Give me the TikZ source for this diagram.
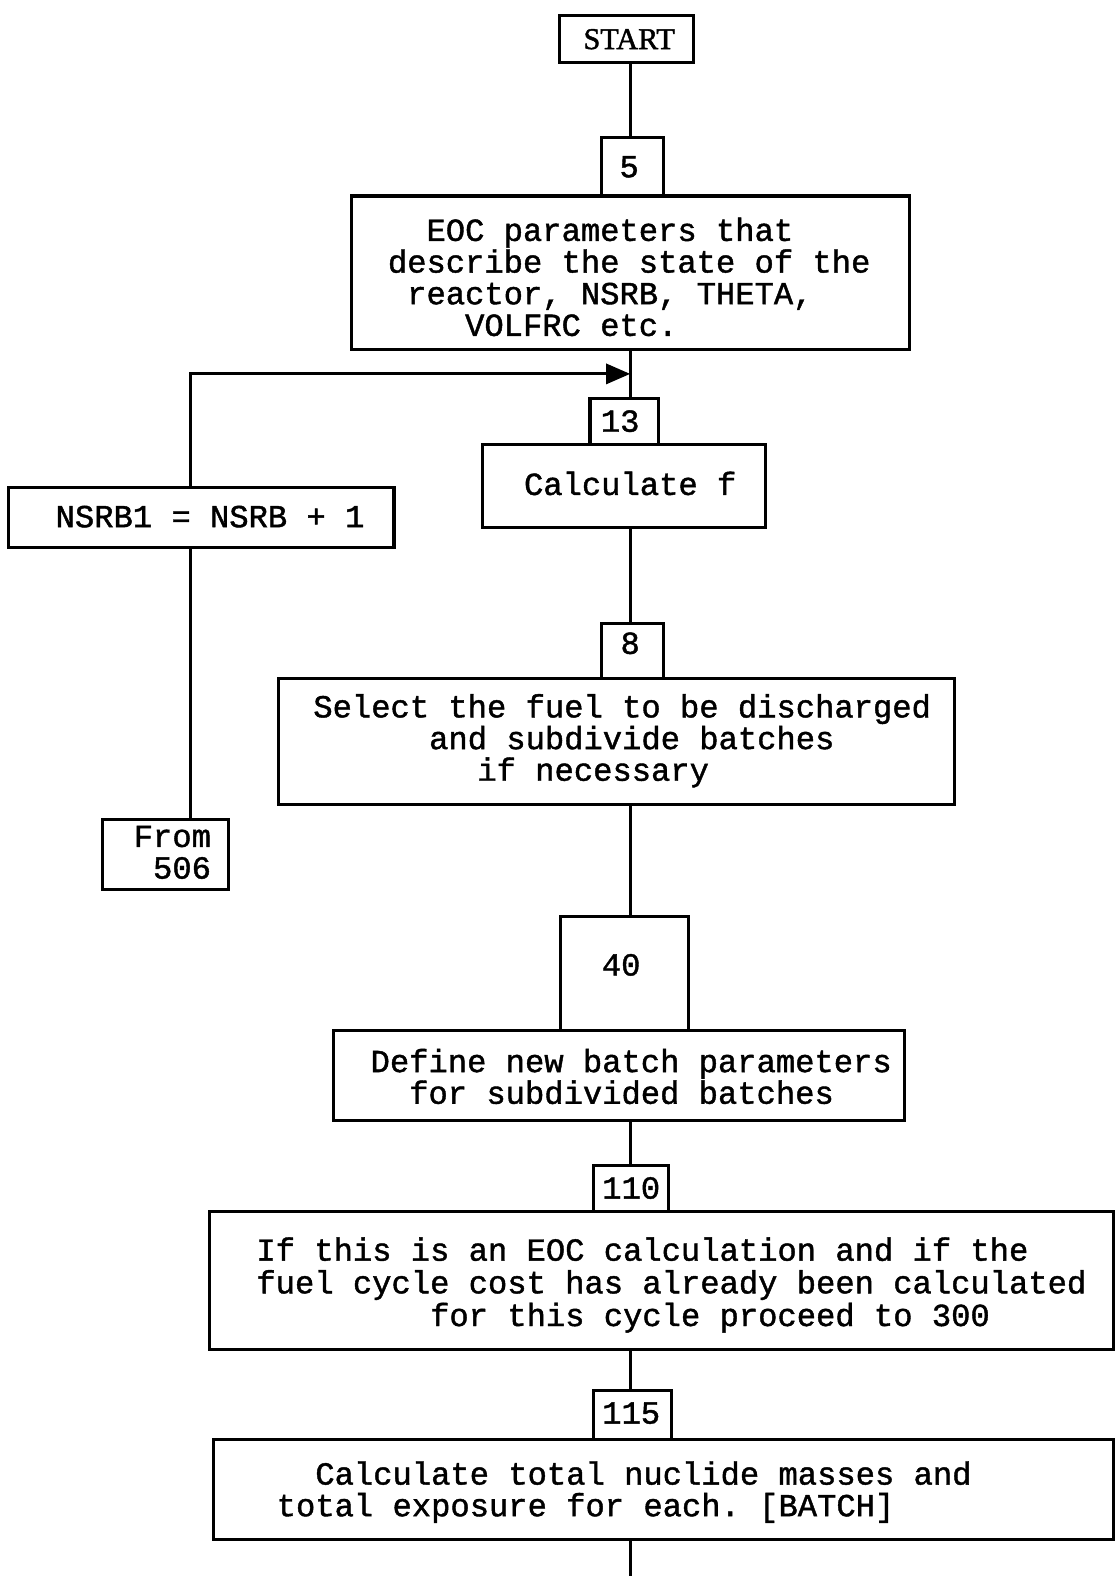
\documentclass[tikz,border=0pt]{standalone}
\usepackage{fontspec}
\setmainfont{Liberation Mono}[FakeBold=1.3]
\newfontfamily\labelserif{Liberation Serif}[FakeBold=1.5]
\usetikzlibrary{arrows.meta}
\frenchspacing
% indent by n typewriter columns
\newcommand\ind[1]{\hspace*{#1\dimexpr 0.6em\relax}}
\begin{document}
\begin{tikzpicture}[x=1pt,y=-1pt,
  every node/.style={inner sep=0pt, outer sep=0pt},
  box/.style={draw, line width=3pt},
  txt/.style={font=\fontsize{32pt}{31.5pt}\selectfont, align=left},
  flow/.style={line width=3pt},
  tip/.style={-{Triangle[length=24pt,width=20pt]}}]
\useasboundingbox (0,0) rectangle (1110,1568);
\coordinate (spine) at (627,0);
\coordinate (bottom) at (627,1568);

% boxes
\node[box, minimum width=133pt, minimum height=47pt] (start) at (623.5,38.5) {};
\node[box, minimum width=62pt,  minimum height=58pt] (n5)    at (629,166) {};
\node[box, minimum width=555pt, minimum height=153pt] (eoc)  at (627.5,271.5) {};
\node[box, minimum width=68pt,  minimum height=46pt] (n13)   at (621,419) {};
\node[box, minimum width=282pt, minimum height=83pt] (calcf) at (621,483.5) {};
\node[box, minimum width=384pt, minimum height=60pt] (nsrb)  at (200,515) {};
\node[box, minimum width=125pt, minimum height=70pt] (from)  at (164.5,850) {};
\node[box, minimum width=62pt,  minimum height=55pt] (n8)    at (629,647.5) {};
\node[box, minimum width=673pt, minimum height=125pt] (sel)  at (613.5,737.5) {};
\node[box, minimum width=127pt, minimum height=113pt] (n40)  at (621.5,968.5) {};
\node[box, minimum width=568pt, minimum height=90pt] (def)   at (616,1070) {};
\node[box, minimum width=75pt,  minimum height=45pt] (n110)  at (627.5,1182.5) {};
\node[box, minimum width=900pt, minimum height=138pt] (ifb)  at (658,1274) {};
\node[box, minimum width=78pt,  minimum height=49pt] (n115)  at (629,1407.5) {};
\node[box, minimum width=896pt, minimum height=100pt] (tot)  at (660,1482) {};

% texts
\node[font=\labelserif\fontsize{30pt}{30pt}\selectfont] (start-t) at (626,39) {START};
\node[txt] (n5-t)   at (626,166) {5};
\node[txt] (eoc-t)  at (626,275.5) {\ind{2}EOC parameters that\\describe the state of the\\\ind{1}reactor, NSRB, THETA,\\\ind{4}VOLFRC etc.};
\node[txt] (n13-t)  at (617,419) {13};
\node[txt] (calcf-t) at (627,481) {Calculate f};
\node[txt] (nsrb-t) at (209,514) {NSRB1 = NSRB + 1};
\node[txt, align=right] (from-t) at (171.5,848) {From\\506};
\node[txt] (n8-t)   at (627,640) {8};
\node[txt] (sel-t)  at (619,737) {Select the fuel to be discharged\\\ind{6}and subdivide batches\\\ind{8.5}if necessary};
\node[txt] (n40-t)  at (618,960) {40};
\node[txt] (def-t)  at (628,1071) {Define new batch parameters\\\ind{2}for subdivided batches};
\node[txt] (n110-t) at (628,1182) {110};
\node[txt, font=\fontsize{32pt}{32.5pt}\selectfont] (ifb-t) at (668,1278.5) {If this is an EOC calculation and if the\\fuel cycle cost has already been calculated\\\ind{9}for this cycle proceed to 300};
\node[txt] (n115-t) at (628,1406) {115};
\node[txt] (tot-t)  at (621,1484.5) {\ind{2}Calculate total nuclide masses and\\total exposure for each. [BATCH]};

% main flow
\draw[flow] (start.south -| spine) -- (n5.north -| spine);
\draw[flow] (eoc.south -| spine) -- (n13.north -| spine);
\draw[flow] (calcf.south -| spine) -- (n8.north -| spine);
\draw[flow] (sel.south -| spine) -- (n40.north -| spine);
\draw[flow] (def.south -| spine) -- (n110.north -| spine);
\draw[flow] (ifb.south -| spine) -- (n115.north -| spine);
\draw[flow] (tot.south -| spine) -- (bottom);

% loop back from NSRB1 into the flow above 13
\coordinate (join) at (627,372);
\draw[flow, tip] (nsrb.north -| 190,0) |- (join);
\draw[flow] (nsrb.south -| 190,0) -- (from.north -| 190,0);
\end{tikzpicture}
\end{document}
